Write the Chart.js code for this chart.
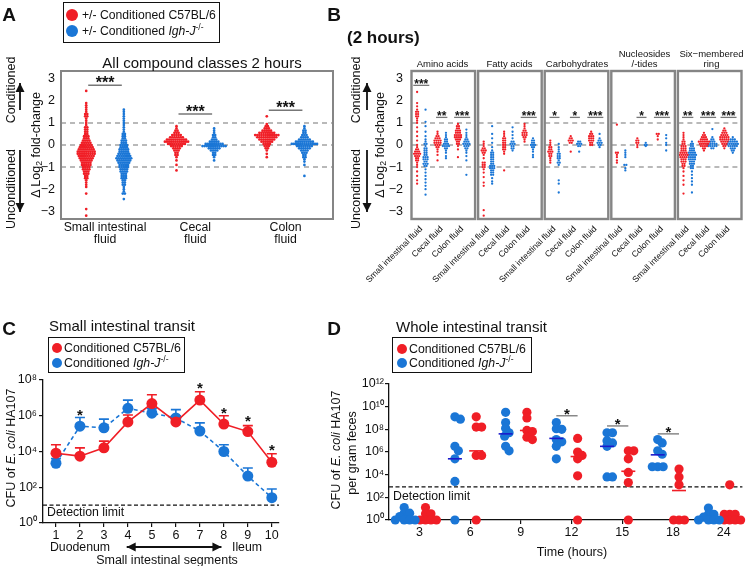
<!DOCTYPE html>
<html>
<head>
<meta charset="utf-8">
<title>Figure</title>
<script src="https://cdn.jsdelivr.net/npm/chart.js@4.4.1/dist/chart.umd.min.js"></script>
<style>
  body { margin: 0; background: #fff; }
  #page { position: relative; width: 747px; height: 566px; overflow: hidden;
          font-family: "Liberation Sans", Arial, Helvetica, sans-serif; color: #111; }
  #page canvas { position: absolute; left: 0; top: 0; }
  .t { position: absolute; white-space: nowrap; line-height: 1; }
  .c { transform: translate(-50%, -50%); }
  .l { transform: translateY(-50%); }
  .v { transform: translate(-50%, -50%) rotate(-90deg); }
  .lab { font-weight: bold; font-size: 19px; }
  .box { position: absolute; border: 1.5px solid #111; box-sizing: border-box; background: #fff; }
  .dot { position: absolute; border-radius: 50%; transform: translate(-50%, -50%); }
  sub { font-size: 70%; vertical-align: -0.25em; line-height: 0; }
  sup { font-size: 70%; vertical-align: 0.55em; line-height: 0; }
</style>
</head>
<body>
<div id="page">
  <canvas id="cA" width="747" height="566"></canvas>
  <canvas id="cB" width="747" height="566"></canvas>
  <canvas id="cC" width="747" height="566"></canvas>
  <canvas id="cD" width="747" height="566"></canvas>

  <div class="t c lab" style="left:9px;top:14px">A</div>
  <div class="t c lab" style="left:334px;top:14px">B</div>
  <div class="t c lab" style="left:9px;top:328px">C</div>
  <div class="t c lab" style="left:334px;top:328px">D</div>

  <!-- panel A -->
  <div class="box" style="left:63px;top:2px;width:157px;height:41px"></div>
  <div class="dot" style="left:72px;top:15px;width:12px;height:12px;background:rgb(240,30,38)"></div>
  <div class="dot" style="left:72px;top:31px;width:12px;height:12px;background:rgb(26,118,214)"></div>
  <div class="t l" style="left:82px;top:15px;font-size:12.2px">+/- Conditioned C57BL/6</div>
  <div class="t l" style="left:82px;top:31px;font-size:12.2px">+/- Conditioned <i>Igh-J</i><sup>-/-</sup></div>
  <div class="t c" style="left:202px;top:62px;font-size:15px">All compound classes 2 hours</div>
  <div class="t v" style="left:36px;top:145px;font-size:12.5px">Δ Log<sub>2</sub> fold-change</div>
  <div class="t v" style="left:11px;top:90px;font-size:12.5px">Conditioned</div>
  <div class="t v" style="left:11px;top:189px;font-size:12.5px">Unconditioned</div>

  <!-- panel B -->
  <div class="t l" style="left:347px;top:37px;font-size:17px;font-weight:bold">(2 hours)</div>
  <div class="t v" style="left:380px;top:145px;font-size:12.5px">Δ Log<sub>2</sub> fold-change</div>
  <div class="t v" style="left:356px;top:90px;font-size:12.5px">Conditioned</div>
  <div class="t v" style="left:356px;top:189px;font-size:12.5px">Unconditioned</div>
  <div class="t c" style="left:442.5px;top:64px;font-size:9.5px">Amino acids</div>
  <div class="t c" style="left:509.5px;top:64px;font-size:9.5px">Fatty acids</div>
  <div class="t c" style="left:577px;top:64px;font-size:9.5px">Carbohydrates</div>
  <div class="t c" style="left:644.5px;top:54px;font-size:9.5px">Nucleosides</div>
  <div class="t c" style="left:644.5px;top:64px;font-size:9.5px">/-tides</div>
  <div class="t c" style="left:711.5px;top:54px;font-size:9.5px">Six−membered</div>
  <div class="t c" style="left:711.5px;top:64px;font-size:9.5px">ring</div>

  <!-- panel C -->
  <div class="t l" style="left:49px;top:325px;font-size:15px">Small intestinal transit</div>
  <div class="box" style="left:48px;top:337px;width:137px;height:36px"></div>
  <div class="dot" style="left:57px;top:348px;width:10px;height:10px;background:rgb(240,30,38)"></div>
  <div class="dot" style="left:57px;top:363px;width:10px;height:10px;background:rgb(26,118,214)"></div>
  <div class="t l" style="left:64px;top:348px;font-size:12.3px">Conditioned C57BL/6</div>
  <div class="t l" style="left:64px;top:363px;font-size:12.3px">Conditioned <i>Igh-J</i><sup>-/-</sup></div>
  <div class="t v" style="left:11px;top:448px;font-size:12.5px">CFU of <i>E. coli</i> HA107</div>
  <div class="t l" style="left:47px;top:512px;font-size:12.3px">Detection limit</div>
  <div class="t c" style="left:80px;top:547px;font-size:12.3px">Duodenum</div>
  <div class="t c" style="left:247px;top:547px;font-size:12.3px">Ileum</div>
  <div class="t c" style="left:167px;top:560px;font-size:12.5px">Small intestinal segments</div>

  <!-- panel D -->
  <div class="t l" style="left:396px;top:326px;font-size:15px">Whole intestinal transit</div>
  <div class="box" style="left:392px;top:337px;width:140px;height:36px"></div>
  <div class="dot" style="left:402px;top:349px;width:10px;height:10px;background:rgb(240,30,38)"></div>
  <div class="dot" style="left:402px;top:363px;width:10px;height:10px;background:rgb(26,118,214)"></div>
  <div class="t l" style="left:409px;top:349px;font-size:12.3px">Conditioned C57BL/6</div>
  <div class="t l" style="left:409px;top:363px;font-size:12.3px">Conditioned <i>Igh-J</i><sup>-/-</sup></div>
  <div class="t v" style="left:336px;top:450px;font-size:12.5px">CFU of <i>E. coli</i> HA107</div>
  <div class="t v" style="left:352px;top:453px;font-size:12.5px">per gram feces</div>
  <div class="t l" style="left:393px;top:496px;font-size:12.3px">Detection limit</div>
  <div class="t c" style="left:572px;top:552px;font-size:12.5px">Time (hours)</div>
</div>

<script>
// ---------- data: panel A (value, number of compounds at that value) ----------
var aCategories = [['Small intestinal', 'fluid'], ['Cecal', 'fluid'], ['Colon', 'fluid']];
var aYTicks = [-3, -2, -1, 0, 1, 2, 3];
var refLines = [-1, 0, 1];
var aSmallRed = [[2.45,1],[1.9,1],[1.8,1],[1.7,1],[1.6,1],[1.5,1],[1.4,2],[1.3,2],[1.2,1],[1.1,1],[1.0,1],[0.9,1],[0.8,2],[0.7,2],[0.6,2],[0.5,2],[0.4,3],[0.3,3],[0.2,4],[0.1,5],[0.0,6],[-0.1,7],[-0.2,8],[-0.3,9],[-0.4,9],[-0.5,8],[-0.6,7],[-0.7,6],[-0.8,5],[-0.9,5],[-1.0,4],[-1.1,4],[-1.2,3],[-1.3,3],[-1.4,2],[-1.5,2],[-1.6,1],[-1.7,1],[-1.8,1],[-1.9,1],[-2.2,1],[-2.9,1],[-3.2,1]];
var aSmallBlue = [[1.6,1],[1.5,1],[1.4,1],[1.3,1],[1.2,1],[1.1,1],[1.0,1],[0.9,1],[0.8,1],[0.7,1],[0.6,1],[0.5,2],[0.4,2],[0.3,2],[0.2,3],[0.1,3],[0.0,4],[-0.1,4],[-0.2,5],[-0.3,5],[-0.4,6],[-0.5,7],[-0.6,8],[-0.7,7],[-0.8,6],[-0.9,5],[-1.0,5],[-1.1,4],[-1.2,4],[-1.3,3],[-1.4,3],[-1.5,3],[-1.6,2],[-1.7,2],[-1.8,2],[-1.9,1],[-2.0,1],[-2.1,1],[-2.2,2],[-2.45,1]];
var aCecalRed = [[0.85,1],[0.75,1],[0.65,2],[0.55,3],[0.45,5],[0.35,7],[0.25,10],[0.15,12],[0.05,9],[-0.05,6],[-0.15,4],[-0.25,3],[-0.35,2],[-0.45,2],[-0.55,1],[-0.7,1],[-0.9,1],[-1.15,1]];
var aCecalBlue = [[0.75,1],[0.65,1],[0.55,1],[0.45,2],[0.35,2],[0.25,3],[0.15,5],[0.05,9],[-0.05,12],[-0.15,6],[-0.25,4],[-0.35,2],[-0.45,2],[-0.55,1],[-0.7,1]];
var aColonRed = [[1.3,1],[0.95,1],[0.85,2],[0.75,3],[0.65,5],[0.55,8],[0.45,12],[0.35,10],[0.25,8],[0.15,6],[0.05,4],[-0.05,3],[-0.15,2],[-0.25,1],[-0.4,1],[-0.55,1]];
var aColonBlue = [[0.85,1],[0.75,1],[0.65,2],[0.55,2],[0.45,3],[0.35,4],[0.25,6],[0.15,9],[0.05,13],[-0.05,8],[-0.15,6],[-0.25,4],[-0.35,3],[-0.45,2],[-0.55,2],[-0.65,1],[-0.75,1],[-0.9,1],[-1.4,1]];
var aSigLabels = ['***', '***', '***'];
var aSigY = [2.7, 1.4, 1.57];

// ---------- data: panel B, per facet: SI red, SI blue, cecal red, cecal blue, colon red, colon blue ----------
var bFacets = ['Amino acids', 'Fatty acids', 'Carbohydrates', 'Nucleosides /-tides', 'Six-membered ring'];
var bXLabels = ['Small intestinal fluid', 'Cecal fluid', 'Colon fluid'];
var bAmino = [
  [[2.4,1],[1.9,1],[1.75,1],[1.6,1],[1.5,2],[1.4,2],[1.3,2],[1.2,1],[1.1,1],[1.0,1],[0.8,1],[0.6,1],[0.4,1],[0.2,1],[0.0,1],[-0.1,1],[-0.2,2],[-0.3,3],[-0.4,4],[-0.5,3],[-0.6,2],[-0.7,2],[-0.8,1],[-0.9,1],[-1.0,1],[-1.2,1],[-1.4,1],[-1.6,1],[-1.75,1]],
  [[1.6,1],[1.05,1],[0.85,1],[0.6,1],[0.4,1],[0.25,1],[0.15,1],[0.05,2],[-0.05,1],[-0.15,2],[-0.25,2],[-0.35,2],[-0.45,2],[-0.55,3],[-0.65,3],[-0.75,2],[-0.85,3],[-0.95,2],[-1.1,1],[-1.25,1],[-1.4,1],[-1.55,1],[-1.7,1],[-1.85,1],[-2.0,1],[-2.25,1]],
  [[0.6,1],[0.5,1],[0.4,2],[0.3,3],[0.2,4],[0.1,4],[0.0,3],[-0.1,2],[-0.2,1],[-0.3,1],[-0.45,1],[-0.7,1]],
  [[0.55,1],[0.45,1],[0.35,1],[0.25,2],[0.15,2],[0.05,3],[-0.05,4],[-0.15,2],[-0.25,1],[-0.35,1],[-0.5,1],[-0.6,1]],
  [[0.95,1],[0.85,2],[0.75,2],[0.65,3],[0.55,3],[0.45,4],[0.35,4],[0.25,3],[0.15,2],[0.05,2],[-0.05,1],[-0.2,1],[-0.55,1]],
  [[0.7,1],[0.55,1],[0.45,1],[0.35,1],[0.25,2],[0.15,3],[0.05,4],[-0.05,3],[-0.15,2],[-0.25,1],[-0.35,1],[-0.5,1],[-0.7,1],[-1.35,1]]
];
var bFatty = [
  [[0.15,1],[0.05,1],[-0.05,1],[-0.15,2],[-0.25,3],[-0.35,2],[-0.45,1],[-0.6,1],[-0.8,2],[-0.9,2],[-1.0,2],[-1.1,1],[-1.25,1],[-1.45,1],[-1.7,1],[-1.85,1],[-2.95,1],[-3.2,1]],
  [[0.85,1],[0.5,1],[0.3,1],[0.1,1],[-0.1,1],[-0.25,1],[-0.35,2],[-0.45,2],[-0.55,2],[-0.65,2],[-0.75,2],[-0.85,2],[-0.95,3],[-1.05,3],[-1.15,2],[-1.25,2],[-1.35,2],[-1.5,1],[-1.65,1],[-1.75,1]],
  [[0.6,1],[0.5,1],[0.4,1],[0.3,2],[0.2,2],[0.1,2],[0.0,2],[-0.1,2],[-0.2,2],[-0.3,1],[-0.4,1],[-1.15,1]],
  [[0.8,1],[0.6,1],[0.45,1],[0.3,1],[0.15,2],[0.05,3],[-0.05,2],[-0.15,2],[-0.25,1]],
  [[0.95,1],[0.85,1],[0.75,1],[0.65,2],[0.55,3],[0.45,3],[0.35,2],[0.25,1],[0.15,1]],
  [[0.3,1],[0.2,2],[0.1,2],[0.0,3],[-0.1,2],[-0.2,1],[-0.3,1],[-0.45,1],[-0.55,1]]
];
var bCarbo = [
  [[0.2,1],[0.1,1],[0.0,1],[-0.1,2],[-0.2,2],[-0.3,3],[-0.4,2],[-0.5,2],[-0.6,1],[-0.7,1],[-0.8,1]],
  [[0.05,1],[-0.1,1],[-0.2,1],[-0.3,1],[-0.4,2],[-0.5,2],[-0.6,2],[-0.7,1],[-0.8,2],[-0.9,1],[-1.6,1],[-1.75,1],[-2.15,1]],
  [[0.4,1],[0.3,2],[0.2,3],[0.1,2],[-0.3,1]],
  [[0.15,2],[0.05,3],[-0.05,2],[-0.3,1]],
  [[0.6,1],[0.5,2],[0.4,3],[0.3,3],[0.2,3],[0.1,2],[0.0,2]],
  [[0.5,1],[0.3,1],[0.2,2],[0.1,3],[0.0,2],[-0.1,1]]
];
var bNucleo = [
  [[0.92,1],[-0.35,2],[-0.45,1],[-0.55,1],[-0.7,1],[-0.8,1]],
  [[-0.25,1],[-0.35,1],[-0.45,1],[-0.55,1],[-0.9,2],[-1.05,1],[-1.15,1]],
  [[0.3,1],[0.2,2],[0.1,2],[0.0,1],[-0.1,1]],
  [[0.1,1],[0.0,2],[-0.05,1]],
  [[0.5,2],[0.4,1],[0.25,1]],
  [[0.45,1],[0.3,1],[0.1,1],[0.0,1],[-0.25,1]]
];
var bSixRing = [
  [[0.55,1],[0.45,1],[0.35,1],[0.25,1],[0.15,2],[0.05,2],[-0.05,3],[-0.15,3],[-0.25,3],[-0.35,4],[-0.45,5],[-0.55,4],[-0.65,3],[-0.75,3],[-0.85,2],[-0.95,2],[-1.05,1],[-1.2,1],[-1.4,1],[-1.6,1],[-1.8,1],[-2.2,1]],
  [[0.15,1],[0.05,2],[-0.05,2],[-0.15,3],[-0.25,3],[-0.35,4],[-0.45,5],[-0.55,4],[-0.65,4],[-0.75,3],[-0.85,3],[-0.95,2],[-1.05,2],[-1.2,1],[-1.35,1],[-1.5,1],[-1.65,1],[-1.8,1],[-2.15,1]],
  [[0.55,1],[0.45,2],[0.35,3],[0.25,4],[0.15,6],[0.05,5],[-0.05,4],[-0.15,2],[-0.25,1]],
  [[0.72,1],[0.35,1],[0.25,2],[0.15,3],[0.05,5],[-0.05,5],[-0.15,2]],
  [[0.75,1],[0.65,2],[0.55,3],[0.45,4],[0.35,5],[0.25,5],[0.15,4],[0.05,3],[-0.05,2],[-0.15,1]],
  [[0.35,1],[0.25,3],[0.15,5],[0.05,6],[-0.05,5],[-0.15,3],[-0.25,2],[-0.35,1]]
];
var bSig = [['***', '**', '***'], ['', '', '***'], ['*', '*', '***'], ['', '*', '***'], ['**', '***', '***']];
var bSigY = [[2.7, 1.25, 1.25], [0, 0, 1.25], [1.25, 1.25, 1.25], [0, 1.25, 1.25], [1.25, 1.25, 1.25]];

// ---------- data: panel C (CFU, mean and upper error) ----------
var cSegments = [1, 2, 3, 4, 5, 6, 7, 8, 9, 10];
var cRed = [8e3, 5.5e3, 1.6e4, 4.5e5, 4.8e6, 4.5e5, 7.5e6, 3.4e5, 1.3e5, 2.5e3];
var cRedErr = [2.4e4, 1.6e4, 3.8e4, 1.1e6, 1.5e7, 1.0e6, 2.2e7, 1.0e6, 2.8e5, 7.5e3];
var cBlue = [2.2e3, 2.6e5, 2.1e5, 2.6e6, 1.4e6, 7.5e5, 1.4e5, 1.0e4, 4.2e2, 2.6e1];
var cBlueErr = [4e3, 8e5, 6.5e5, 7.5e6, 2.5e6, 2.2e6, 4e5, 2.4e4, 1.2e3, 8e1];
var cStarY = [null, 1.9e6, null, null, null, null, 6e7, 2.5e6, 8e5, 2e4];
var cDetection = 10;
var cYTicks = [1, 1e2, 1e4, 1e6, 1e8];

// ---------- data: panel D (log10 CFU per gram feces, one value per mouse) ----------
var dTimes = ['3', '6', '9', '12', '15', '18', '24'];
var dBlue = [
  [1.1, 0.6, 0.6, 0.3, 0, 0, 0, 0],
  [9.1, 8.9, 6.5, 6.1, 5.4, 3.4, 0],
  [9.5, 8.6, 8.1, 7.7, 7.4, 6.5, 6.1],
  [8.6, 8.05, 8.0, 7.1, 6.9, 6.5, 5.4],
  [7.7, 7.7, 7.0, 6.8, 6.5, 3.8, 3.8],
  [7.1, 6.8, 6.1, 5.8, 4.7, 4.7, 4.7],
  [1.05, 0.5, 0.5, 0.25, 0, 0, 0, 0]
];
var dRed = [
  [1.1, 0.55, 0.55, 0, 0, 0, 0],
  [9.1, 8.2, 8.2, 5.7, 5.7, 0],
  [9.5, 9.0, 7.9, 7.8, 7.3, 7.1],
  [7.2, 6.0, 5.7, 5.4, 3.9, 0],
  [6.1, 6.1, 5.4, 4.2, 3.3, 0],
  [4.5, 3.8, 3.1, 0, 0, 0],
  [3.1, 0.5, 0.5, 0.5, 0, 0, 0, 0]
];
var dBlueMed = [null, 5.4, 7.6, 7.2, 6.5, 5.75, null];
var dRedMed = [null, 6.1, 7.9, 5.6, 4.3, 2.6, null];
var dSigY = [null, null, null, 9.2, 8.3, 7.6, null];
var dDetection = 2.93;
var dYTicks = [0, 2, 4, 6, 8, 10, 12];

// ---------- common ----------
Chart.defaults.font.family = '"Liberation Sans", Arial, Helvetica, sans-serif';
Chart.defaults.color = '#111';

var W = 747, H = 566;
var RED = 'rgb(240, 30, 38)';
var BLUE = 'rgb(26, 118, 214)';
var BOXGRAY = '#858585';
var DASHGRAY = '#a3a3a3';
var SUPS = { '0': '\u2070', '1': '\u00b9', '2': '\u00b2', '3': '\u00b3', '4': '\u2074', '5': '\u2075', '6': '\u2076', '7': '\u2077', '8': '\u2078', '9': '\u2079' };

function pow10(n) { return '10' + String(n).split('').map(function (c) { return SUPS[c]; }).join(''); }
function minus(v) { return v < 0 ? '\u2212' + Math.abs(v) : String(v); }

// layout padding so that the plot area lands on page coordinates (l,t)-(r,b)
function pad(l, t, r, b, yW, xH) {
  return { left: l - yW, top: t, right: W - r, bottom: H - b - xH };
}
function fitY(w) { return function (s) { s.width = w; s.paddingTop = 0; s.paddingBottom = 0; }; }
function fitX(h) { return function (s) { s.height = h; s.paddingLeft = 0; s.paddingRight = 0; }; }
function setTicks(list) { return function (s) { s.ticks = list.map(function (v) { return { value: v }; }); }; }

function baseOptions(padding) {
  return {
    responsive: false, animation: false, events: [],
    layout: { padding: padding },
    plugins: { legend: { display: false }, tooltip: { enabled: false } }
  };
}
var noGrid = { display: false, drawTicks: false, tickLength: 0 };

// spread equal values sideways (beeswarm rows)
function swarmBins(bins, cx, step) {
  var pts = [];
  bins.forEach(function (b) {
    for (var k = 0; k < b[1]; k++) pts.push({ x: cx + (k - (b[1] - 1) / 2) * step, y: b[0] });
  });
  return pts;
}
// greedy beeswarm for individual values (pixel units for collision)
function swarmValues(vals, cx, pxX, pxY, dmin) {
  var placed = [];
  vals.forEach(function (v) {
    var off = 0;
    for (var k = 0; k < 300; k++) {
      var cand = k === 0 ? [0] : [k * 0.5, -k * 0.5], found = null;
      for (var c = 0; c < cand.length && found === null; c++) {
        var free = placed.every(function (p) {
          var dx = cand[c] - p.o, dy = (v - p.v) * pxY;
          return dx * dx + dy * dy >= dmin * dmin;
        });
        if (free) found = cand[c];
      }
      if (found !== null) { off = found; break; }
    }
    placed.push({ o: off, v: v });
  });
  return placed.map(function (p) { return { x: cx + p.o / pxX, y: p.v }; });
}

function hline(ctx, x1, x2, y, color, width, dash) {
  ctx.save();
  ctx.strokeStyle = color; ctx.lineWidth = width;
  ctx.setLineDash(dash || []);
  ctx.beginPath(); ctx.moveTo(x1, y); ctx.lineTo(x2, y); ctx.stroke();
  ctx.restore();
}
function stars(ctx, txt, x, y, size) {
  ctx.save();
  ctx.font = 'bold ' + size + 'px "Liberation Sans", Arial, sans-serif';
  ctx.fillStyle = '#111';
  ctx.textAlign = 'center';
  ctx.textBaseline = 'alphabetic';
  ctx.fillText(txt, x, y + size * 0.6);
  var w = ctx.measureText(txt).width;
  ctx.restore();
  return w;
}
function head(ctx, x, y, ang, len, half) {
  var c = Math.cos(ang), s = Math.sin(ang);
  ctx.beginPath();
  ctx.moveTo(x, y);
  ctx.lineTo(x - len * c - half * s, y - len * s + half * c);
  ctx.lineTo(x - len * c + half * s, y - len * s - half * c);
  ctx.closePath(); ctx.fill();
}
function arrow(ctx, x1, y1, x2, y2, both) {
  var ang = Math.atan2(y2 - y1, x2 - x1);
  ctx.save();
  ctx.strokeStyle = '#111'; ctx.fillStyle = '#111'; ctx.lineWidth = 1.8;
  ctx.beginPath(); ctx.moveTo(x1, y1); ctx.lineTo(x2, y2); ctx.stroke();
  head(ctx, x2, y2, ang, 9, 4.5);
  if (both) head(ctx, x1, y1, ang + Math.PI, 9, 4.5);
  ctx.restore();
}

// ---------- panel A ----------
var aPos = [0, 1, 2.4, 3.4, 4.8, 5.8];
var aGroups = [aSmallRed, aSmallBlue, aCecalRed, aCecalBlue, aColonRed, aColonBlue];

var panelA = {
  id: 'panelA',
  beforeDatasetsDraw: function (chart) {
    var a = chart.chartArea, y = chart.scales.y;
    refLines.forEach(function (v) { hline(chart.ctx, a.left, a.right, y.getPixelForValue(v), DASHGRAY, 1.5, [5, 4]); });
  },
  afterDatasetsDraw: function (chart) {
    var ctx = chart.ctx, a = chart.chartArea, x = chart.scales.x, y = chart.scales.y;
    ctx.save(); ctx.strokeStyle = BOXGRAY; ctx.lineWidth = 2;
    ctx.strokeRect(a.left, a.top, a.right - a.left, a.bottom - a.top); ctx.restore();
    aSigLabels.forEach(function (s, i) {
      var x1 = x.getPixelForValue(aPos[2 * i]), x2 = x.getPixelForValue(aPos[2 * i + 1]);
      var yy = y.getPixelForValue(aSigY[i]);
      hline(ctx, x1 + 2, x2 - 2, yy, '#777', 1.5);
      stars(ctx, s, (x1 + x2) / 2, yy - 6.5, 16);
    });
  },
  afterDraw: function (chart) {
    var ctx = chart.ctx;
    arrow(ctx, 20, 110, 20, 83);
    arrow(ctx, 20, 150, 20, 212);
    arrow(ctx, 367, 110, 367, 83);
    arrow(ctx, 367, 150, 367, 212);
  }
};

new Chart(document.getElementById('cA'), {
  type: 'scatter',
  data: {
    datasets: aGroups.map(function (g, i) {
      return { data: swarmBins(g, aPos[i], 0.056), backgroundColor: i % 2 ? BLUE : RED,
               pointRadius: 1.35, pointBorderWidth: 0, borderWidth: 0 };
    })
  },
  options: Object.assign(baseOptions(pad(61, 71, 333, 219, 40, 40)), {
    scales: {
      x: { type: 'linear', min: -0.67, max: 6.56, afterFit: fitX(40),
           afterBuildTicks: setTicks([0.5, 2.9, 5.3]),
           grid: noGrid, border: { display: false },
           ticks: { padding: 3, autoSkip: false, maxRotation: 0, font: { size: 12.3, lineHeight: 0.98 },
                    callback: function (v, i) { return aCategories[i]; } } },
      y: { min: -3.35, max: 3.35, afterFit: fitY(40), afterBuildTicks: setTicks(aYTicks),
           grid: noGrid, border: { display: false },
           ticks: { padding: 6, font: { size: 12.5 }, callback: minus } }
    }
  }),
  plugins: [panelA]
});

// ---------- panel B ----------
var bData = [bAmino, bFatty, bCarbo, bNucleo, bSixRing];
var bWidth = 7.5;
var bPos = [0.8, 1.75, 3.1, 4.05, 5.4, 6.35];
var bPairs = [1.27, 3.57, 5.87];
var bTickPos = [];
bData.forEach(function (f, k) { bPairs.forEach(function (p) { bTickPos.push(k * bWidth + p); }); });

var bSets = [];
bData.forEach(function (facet, k) {
  facet.forEach(function (g, i) {
    bSets.push({ data: swarmBins(g, k * bWidth + bPos[i], 0.23), backgroundColor: i % 2 ? BLUE : RED,
                 pointRadius: 1.15, pointBorderWidth: 0, borderWidth: 0 });
  });
});

var panelB = {
  id: 'panelB',
  beforeDatasetsDraw: function (chart) {
    var x = chart.scales.x, y = chart.scales.y;
    bData.forEach(function (f, k) {
      var x0 = x.getPixelForValue(k * bWidth) + 2, x1 = x.getPixelForValue((k + 1) * bWidth) - 2;
      refLines.forEach(function (v) { hline(chart.ctx, x0, x1, y.getPixelForValue(v), DASHGRAY, 1.5, [5, 4]); });
    });
  },
  afterDatasetsDraw: function (chart) {
    var ctx = chart.ctx, a = chart.chartArea, x = chart.scales.x, y = chart.scales.y;
    bData.forEach(function (f, k) {
      var x0 = x.getPixelForValue(k * bWidth) + 1.5, x1 = x.getPixelForValue((k + 1) * bWidth) - 1.5;
      ctx.save(); ctx.strokeStyle = BOXGRAY; ctx.lineWidth = 2.4;
      ctx.strokeRect(x0, a.top, x1 - x0, a.bottom - a.top); ctx.restore();
      bSig[k].forEach(function (s, j) {
        if (!s) return;
        var cx = x.getPixelForValue(k * bWidth + bPairs[j]);
        var yy = y.getPixelForValue(bSigY[k][j]);
        var w = stars(ctx, s, cx, yy - 4.5, 12);
        var hw = Math.max(w, 8) / 2 + 1;
        hline(ctx, cx - hw, cx + hw, yy, '#777', 1.3);
      });
    });
  }
};

new Chart(document.getElementById('cB'), {
  type: 'scatter',
  data: { datasets: bSets },
  options: Object.assign(baseOptions(pad(410, 71, 744, 219, 30, 85)), {
    scales: {
      x: { type: 'linear', min: 0, max: 5 * bWidth, afterFit: fitX(85),
           afterBuildTicks: setTicks(bTickPos),
           grid: noGrid, border: { display: false },
           ticks: { padding: 5, autoSkip: false, minRotation: 45, maxRotation: 45, font: { size: 8.6 },
                    callback: function (v, i) { return bXLabels[i % 3]; } } },
      y: { min: -3.35, max: 3.35, afterFit: fitY(30), afterBuildTicks: setTicks(aYTicks),
           grid: noGrid, border: { display: false },
           ticks: { padding: 7, font: { size: 12.5 }, callback: minus } }
    }
  }),
  plugins: [panelB]
});

// ---------- panel C ----------
function errBars(ctx, x, y, vals, ups, color) {
  ctx.save(); ctx.strokeStyle = color; ctx.lineWidth = 1.6;
  vals.forEach(function (v, i) {
    var px = x.getPixelForValue(cSegments[i]);
    var y0 = y.getPixelForValue(v), y1 = y.getPixelForValue(ups[i]);
    ctx.beginPath(); ctx.moveTo(px, y0); ctx.lineTo(px, y1);
    ctx.moveTo(px - 5, y1); ctx.lineTo(px + 5, y1); ctx.stroke();
  });
  ctx.restore();
}

var panelC = {
  id: 'panelC',
  beforeDatasetsDraw: function (chart) {
    var ctx = chart.ctx, a = chart.chartArea, x = chart.scales.x, y = chart.scales.y;
    hline(ctx, a.left, a.right, y.getPixelForValue(cDetection), '#111', 1.3, [4, 2.5]);
    errBars(ctx, x, y, cBlue, cBlueErr, BLUE);
    errBars(ctx, x, y, cRed, cRedErr, RED);
  },
  afterDatasetsDraw: function (chart) {
    var x = chart.scales.x, y = chart.scales.y;
    cStarY.forEach(function (v, i) {
      if (v) stars(chart.ctx, '*', x.getPixelForValue(cSegments[i]), y.getPixelForValue(v), 15);
    });
  },
  afterDraw: function (chart) {
    var x = chart.scales.x;
    arrow(chart.ctx, x.getPixelForValue(3.95), 547, x.getPixelForValue(7.9), 547, true);
  }
};

function axisStyle() {
  return { grid: { display: true, drawOnChartArea: false, drawTicks: true, tickLength: 4, color: '#111', lineWidth: 1.2 },
           border: { display: true, color: '#111', width: 1.3 } };
}

new Chart(document.getElementById('cC'), {
  type: 'scatter',
  data: {
    datasets: [
      { data: cSegments.map(function (s, i) { return { x: s, y: cRed[i] }; }), showLine: true,
        borderColor: RED, backgroundColor: RED, borderWidth: 1.6, pointRadius: 5.5, pointBorderWidth: 0, clip: 8 },
      { data: cSegments.map(function (s, i) { return { x: s, y: cBlue[i] }; }), showLine: true,
        borderColor: BLUE, backgroundColor: BLUE, borderWidth: 1.6, borderDash: [4, 3], pointRadius: 5.5, pointBorderWidth: 0, clip: 8 }
    ]
  },
  options: Object.assign(baseOptions(pad(43, 380, 279, 523, 40, 25)), {
    scales: {
      x: Object.assign(axisStyle(), { type: 'linear', min: 0.46, max: 10.3, afterFit: fitX(25),
           afterBuildTicks: setTicks(cSegments),
           ticks: { padding: 1, autoSkip: false, maxRotation: 0, font: { size: 12.5 } } }),
      y: Object.assign(axisStyle(), { type: 'logarithmic', min: 1, max: 1e8, afterFit: fitY(40),
           afterBuildTicks: setTicks(cYTicks),
           ticks: { padding: 2, font: { size: 12.5 }, callback: function (v) { return pow10(Math.round(Math.log10(v))); } } })
    }
  }),
  plugins: [panelC]
});

// ---------- panel D ----------
var dPxX = 51.2, dPxY = 11.33;
var dBlueOff = -0.3, dRedOff = 0.12;
var dBluePts = [], dRedPts = [];
dTimes.forEach(function (t, i) {
  dBluePts = dBluePts.concat(swarmValues(dBlue[i], i + dBlueOff, dPxX, dPxY, 5.5));
  dRedPts = dRedPts.concat(swarmValues(dRed[i], i + dRedOff, dPxX, dPxY, 5.5));
});

var panelD = {
  id: 'panelD',
  beforeDatasetsDraw: function (chart) {
    var a = chart.chartArea, y = chart.scales.y;
    hline(chart.ctx, a.left, a.right, y.getPixelForValue(dDetection), '#111', 1.3, [4, 2.5]);
  },
  afterDatasetsDraw: function (chart) {
    var ctx = chart.ctx, x = chart.scales.x, y = chart.scales.y;
    dTimes.forEach(function (t, i) {
      var bx = x.getPixelForValue(i + dBlueOff), rx = x.getPixelForValue(i + dRedOff);
      if (dBlueMed[i] !== null) hline(ctx, bx - 7, bx + 7, y.getPixelForValue(dBlueMed[i]), '#1a1acc', 1.6);
      if (dRedMed[i] !== null) hline(ctx, rx - 7, rx + 7, y.getPixelForValue(dRedMed[i]), RED, 1.6);
      if (dSigY[i] !== null) {
        var yy = y.getPixelForValue(dSigY[i]);
        hline(ctx, bx, rx, yy, '#888', 1.5);
        stars(ctx, '*', (bx + rx) / 2, yy - 6, 15);
      }
    });
  }
};

new Chart(document.getElementById('cD'), {
  type: 'scatter',
  data: {
    datasets: [
      { data: dBluePts, backgroundColor: BLUE, pointRadius: 4.6, pointBorderWidth: 0, borderWidth: 0, clip: false },
      { data: dRedPts, backgroundColor: RED, pointRadius: 4.6, pointBorderWidth: 0, borderWidth: 0, clip: false }
    ]
  },
  options: Object.assign(baseOptions(pad(389, 384, 745, 520, 40, 25)), {
    scales: {
      x: Object.assign(axisStyle(), { type: 'linear', min: -0.6, max: 6.37, afterFit: fitX(25),
           afterBuildTicks: setTicks([0, 1, 2, 3, 4, 5, 6]),
           ticks: { padding: 1, autoSkip: false, maxRotation: 0, font: { size: 12.5 },
                    callback: function (v, i) { return dTimes[i]; } } }),
      y: Object.assign(axisStyle(), { type: 'linear', min: 0, max: 12, afterFit: fitY(40),
           afterBuildTicks: setTicks(dYTicks),
           ticks: { padding: 1, font: { size: 12.5 }, callback: function (v) { return pow10(v); } } })
    }
  }),
  plugins: [panelD]
});
</script>
</body>
</html>
